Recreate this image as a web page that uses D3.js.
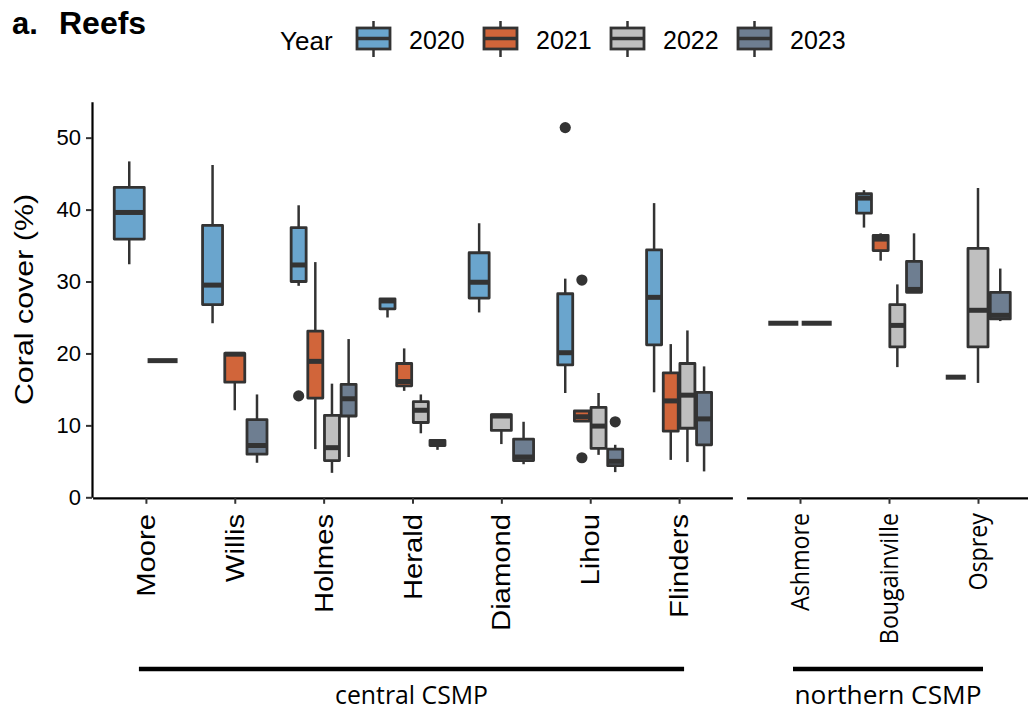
<!DOCTYPE html>
<html>
<head>
<meta charset="utf-8">
<script src="https://cdn.jsdelivr.net/npm/d3@7"></script>
<style>
  html, body { margin: 0; padding: 0; background: #fff; }
  svg { display: block; font-family: "Liberation Sans", Arial, sans-serif; }
</style>
</head>
<body>
<div id="chart"></div>
<script>
// --- data -------------------------------------------------------------------
const centralSites = ["Moore", "Willis", "Holmes", "Herald", "Diamond", "Lihou", "Flinders"];
const northernSites = ["Ashmore", "Bougainville", "Osprey"];
const regionLabels = ["central CSMP", "northern CSMP"];
const years = ["2020", "2021", "2022", "2023"];
const yearColors = ["#6aa5cd", "#d1653a", "#bfbfbf", "#6e7e91"];
const yTicks = [0, 10, 20, 30, 40, 50];

// site, year, lower whisker, Q1, median, Q3, upper whisker  (coral cover %)
const boxStats = [
    ["Moore", "2020", 32.4, 35.9, 39.6, 43.1, 46.7],
    ["Moore", "2021", 19.0, 19.0, 19.0, 19.0, 19.0],
    ["Willis", "2020", 24.2, 26.8, 29.5, 37.8, 46.2],
    ["Willis", "2021", 12.1, 16.0, 19.9, 20.0, 20.0],
    ["Willis", "2023", 4.8, 6.0, 7.2, 10.8, 14.3],
    ["Holmes", "2020", 29.4, 30.0, 32.3, 37.5, 40.6],
    ["Holmes", "2021", 6.7, 13.8, 18.9, 23.1, 32.7],
    ["Holmes", "2022", 3.4, 5.1, 6.9, 11.4, 15.8],
    ["Holmes", "2023", 5.6, 11.3, 13.7, 15.7, 22.0],
    ["Herald", "2020", 25.0, 26.2, 27.3, 27.6, 27.6],
    ["Herald", "2021", 14.8, 15.5, 16.1, 18.6, 20.7],
    ["Herald", "2022", 8.9, 10.4, 12.1, 13.3, 14.3],
    ["Herald", "2023", 6.6, 7.2, 7.5, 7.9, 7.9],
    ["Diamond", "2020", 25.7, 27.7, 29.9, 34.0, 38.1],
    ["Diamond", "2022", 7.4, 9.3, 11.3, 11.5, 11.6],
    ["Diamond", "2023", 4.6, 5.1, 5.6, 8.1, 10.5],
    ["Lihou", "2020", 14.5, 18.4, 20.1, 28.3, 30.4],
    ["Lihou", "2021", 10.6, 10.6, 11.2, 12.0, 12.0],
    ["Lihou", "2022", 5.9, 6.8, 9.9, 12.5, 14.5],
    ["Lihou", "2023", 3.5, 4.4, 5.0, 6.7, 7.3],
    ["Flinders", "2020", 14.6, 21.2, 27.8, 34.4, 40.9],
    ["Flinders", "2021", 5.2, 9.2, 13.4, 17.3, 21.3],
    ["Flinders", "2022", 4.9, 9.6, 14.2, 18.6, 23.2],
    ["Flinders", "2023", 3.6, 7.3, 10.9, 14.6, 18.2],
    ["Ashmore", "2020", 24.2, 24.2, 24.2, 24.2, 24.2],
    ["Ashmore", "2021", 24.2, 24.2, 24.2, 24.2, 24.2],
    ["Bougainville", "2020", 37.5, 39.5, 41.6, 42.2, 42.7],
    ["Bougainville", "2021", 32.9, 34.3, 35.9, 36.4, 36.7],
    ["Bougainville", "2022", 18.1, 20.9, 23.9, 26.8, 29.6],
    ["Bougainville", "2023", 28.4, 28.5, 28.9, 32.8, 36.7],
    ["Osprey", "2021", 16.7, 16.7, 16.7, 16.7, 16.7],
    ["Osprey", "2022", 15.9, 20.9, 26.0, 34.6, 43.0],
    ["Osprey", "2023", 24.5, 24.8, 25.3, 28.5, 31.8]
];

// site, year, value
const outliers = [
    ["Holmes", "2020", 14.1],
    ["Lihou", "2020", 51.4],
    ["Lihou", "2021", 30.2],
    ["Lihou", "2021", 5.5],
    ["Lihou", "2023", 10.5]
];

// --- layout -----------------------------------------------------------------
const W = 1028, H = 715;
const INK = "#333333";
const STRETCH = 1.17;              // rotated labels in the original run long

const svg = d3.select("#chart").append("svg")
    .attr("width", W).attr("height", H)
    .attr("viewBox", `0 0 ${W} ${H}`);

const y = d3.scaleLinear().domain([0, 55]).range([497.3, 101.7]);

const panels = [
    { sites: centralSites, x: d3.scalePoint().domain(centralSites).range([92.6, 732.4]).padding(0.6) },
    { sites: northernSites, x: d3.scalePoint().domain(northernSites).range([746.6, 1031.4]).padding(0.6) }
];

const color = d3.scaleOrdinal().domain(years).range(yearColors);

const boxes = boxStats.map(r => ({
    site: r[0], year: r[1], lo: r[2], q1: r[3], med: r[4], q3: r[5], hi: r[6]
}));

// dodge2-like placement: boxes share 0.75 of the step, 10% padding each
function placeBoxes(panel) {
    const step = panel.x.step();
    const out = [];
    for (const s of panel.sites) {
        const group = boxes.filter(b => b.site === s)
            .sort((a, b) => years.indexOf(a.year) - years.indexOf(b.year));
        const slot = 0.75 * step / group.length;
        group.forEach((b, i) => {
            b.cx = panel.x(s) - 0.75 * step / 2 + slot * (i + 0.5);
            b.w = slot * 0.9;
            out.push(b);
        });
    }
    return out;
}

const placed = panels.flatMap(placeBoxes);

// --- boxes ------------------------------------------------------------------
const gBox = svg.append("g");
const bx = gBox.selectAll("g.box").data(placed).join("g").attr("class", "box");

bx.append("line")
    .attr("x1", d => d.cx).attr("x2", d => d.cx)
    .attr("y1", d => y(d.hi)).attr("y2", d => y(d.q3))
    .attr("stroke", INK).attr("stroke-width", 2.5);
bx.append("line")
    .attr("x1", d => d.cx).attr("x2", d => d.cx)
    .attr("y1", d => y(d.q1)).attr("y2", d => y(d.lo))
    .attr("stroke", INK).attr("stroke-width", 2.5);
bx.append("rect")
    .attr("x", d => d.cx - d.w / 2).attr("width", d => d.w)
    .attr("y", d => y(d.q3)).attr("height", d => y(d.q1) - y(d.q3))
    .attr("fill", d => color(d.year))
    .attr("stroke", INK).attr("stroke-width", 2.8)
    .attr("stroke-linejoin", "round");
bx.append("line")
    .attr("x1", d => d.cx - d.w / 2).attr("x2", d => d.cx + d.w / 2)
    .attr("y1", d => y(d.med)).attr("y2", d => y(d.med))
    .attr("stroke", INK).attr("stroke-width", 5);

// outliers sit on their box's centre line
gBox.selectAll("circle.out").data(outliers).join("circle")
    .attr("class", "out")
    .attr("cx", o => placed.find(b => b.site === o[0] && b.year === o[1]).cx)
    .attr("cy", o => y(o[2]))
    .attr("r", 5.6)
    .attr("fill", INK);

// --- axes -------------------------------------------------------------------
const yAxis = svg.append("g")
    .attr("transform", `translate(${panels[0].x.range()[0] - 0.6},0)`)
    .call(d3.axisLeft(y).tickValues(yTicks).tickSize(6).tickSizeOuter(0).tickPadding(5));
yAxis.select(".domain").attr("stroke", "#000").attr("stroke-width", 2.2);
yAxis.selectAll(".tick line").attr("stroke", INK).attr("stroke-width", 2);
yAxis.selectAll(".tick text")
    .attr("fill", "#000")
    .style("font-size", "22px");

panels.forEach((p, pi) => {
    const g = svg.append("g")
        .attr("transform", `translate(0,${y(0) + 0.5})`)
        .call(d3.axisBottom(p.x).tickSize(6).tickSizeOuter(0));
    g.select(".domain").attr("stroke", "#000").attr("stroke-width", 2.2);
    g.selectAll(".tick line").attr("stroke", INK).attr("stroke-width", 2);
    g.selectAll(".tick text").remove();

    // rotated site names hanging from each tick
    const lab = svg.append("g");
    lab.selectAll("text").data(p.sites).join("text")
        .attr("transform", s => pi === 0
            ? `translate(${p.x(s)},514) scale(1,${STRETCH}) rotate(-90)`
            : `translate(${p.x(s)},513) scale(1,0.93) rotate(-90)`)
        .attr("text-anchor", "end")
        .attr("dy", "0.36em")
        .attr("fill", "#000")
        .style("font-family", pi === 0 ? null : "'Open Sans', sans-serif")
        .style("font-size", pi === 0 ? "25px" : "25px")
        .text(s => s);

    // region bracket + label
    const x0 = p.x(p.sites[0]) - 7, x1 = p.x(p.sites[p.sites.length - 1]) + 5;
    svg.append("line")
        .attr("x1", x0).attr("x2", x1)
        .attr("y1", 669).attr("y2", 669)
        .attr("stroke", "#000").attr("stroke-width", 4.5);
    svg.append("text")
        .attr("x", (x0 + x1) / 2).attr("y", 704)
        .attr("text-anchor", "middle")
        .attr("textLength", pi === 0 ? 153 : 187)
        .attr("lengthAdjust", "spacingAndGlyphs")
        .attr("fill", "#000")
        .style("font-family", "'Open Sans', sans-serif")
        .style("font-size", "25px")
        .text(regionLabels[pi]);
});

// y title
svg.append("text")
    .attr("transform", `translate(33,${(y(0) + y(55)) / 2}) scale(1,${STRETCH}) rotate(-90)`)
    .attr("text-anchor", "middle")
    .attr("fill", "#000")
    .style("font-size", "26px")
    .text("Coral cover (%)");

// panel tag
svg.append("text").attr("x", 12).attr("y", 34)
    .style("font-size", "31px").style("font-weight", "bold").text("a.");
svg.append("text").attr("x", 59).attr("y", 34)
    .style("font-size", "32px").style("font-weight", "bold").text("Reefs");

// --- legend -----------------------------------------------------------------
const leg = svg.append("g");
leg.append("text").attr("x", 280).attr("y", 50)
    .style("font-size", "26px").text("Year");

const keys = leg.selectAll("g.key").data(years).join("g")
    .attr("class", "key")
    .attr("transform", (d, i) => `translate(${357 + i * 127},0)`);
keys.append("line")
    .attr("x1", 16.5).attr("x2", 16.5).attr("y1", 21).attr("y2", 57)
    .attr("stroke", INK).attr("stroke-width", 2.5);
keys.append("rect")
    .attr("x", 0).attr("y", 28).attr("width", 33).attr("height", 21)
    .attr("fill", d => color(d))
    .attr("stroke", INK).attr("stroke-width", 2.8);
keys.append("line")
    .attr("x1", 0).attr("x2", 33).attr("y1", 38.5).attr("y2", 38.5)
    .attr("stroke", INK).attr("stroke-width", 3.5);
keys.append("text")
    .attr("x", 52).attr("y", 49)
    .style("font-size", "25px")
    .text(d => d);
</script>
</body>
</html>
